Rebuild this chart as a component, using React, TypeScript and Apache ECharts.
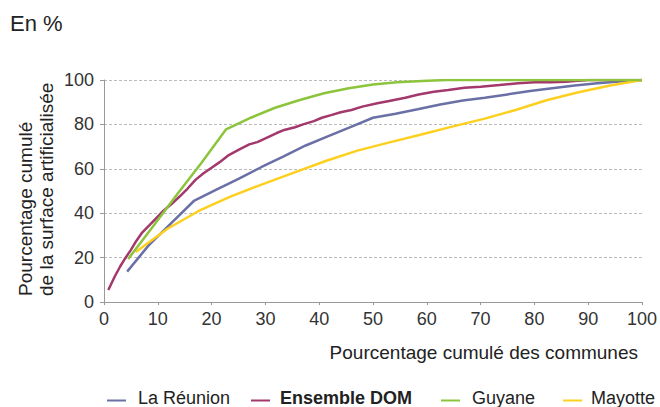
import React, { useEffect, useRef } from "react";
import * as echarts from "echarts";

const FONT = '"Liberation Sans", Arial, Helvetica, sans-serif';

const xTicks = [0, 10, 20, 30, 40, 50, 60, 70, 80, 90, 100];
const yTicks = [0, 20, 40, 60, 80, 100];

const reunionX = [4.3, 8.3, 12.5, 16.7, 20.8, 25, 29.2, 33.3, 37.5, 41.7, 45.8, 50, 54.2, 58.3, 62.5, 66.7, 70.8, 75, 79.2, 83.3, 87.5, 91.7, 95.8, 100];
const reunionY = [13.7, 25.5, 35.5, 45.5, 50.5, 55.5, 60.7, 65.5, 70.5, 74.7, 78.8, 83, 84.8, 86.8, 89, 90.8, 92, 93.5, 95, 96.3, 97.5, 98.5, 99.3, 100];

const domX = [0.8, 2, 3, 3.9, 5, 6, 7, 8.5, 10, 11, 12.5, 14, 15.5, 17, 18.5, 20, 21.5, 23.2, 25, 27, 28.5, 30, 32, 33.5, 35.5, 37, 39, 40.5, 42.2, 44, 46, 48, 50.8, 53, 56, 58.5, 61.3, 64, 67, 70, 73.5, 77, 80, 83, 85.8, 87.5, 90, 100];
const domY = [5.4, 11.5, 16, 19.5, 23.5, 27.5, 31, 34.7, 38.5, 41, 44, 47.4, 51, 55, 58, 60.5, 63, 66.2, 68.5, 71, 72, 73.7, 76, 77.5, 78.7, 80, 81.5, 83, 84.2, 85.5, 86.5, 88, 89.5, 90.5, 92, 93.5, 94.7, 95.5, 96.5, 97, 97.7, 98.5, 99, 99, 99.2, 99.6, 100, 100];

const guyaneX = [4.5, 9.1, 13.6, 18.2, 22.7, 27.3, 31.8, 36.4, 40.9, 45.5, 50, 54.5, 59.1, 63.6, 100];
const guyaneY = [19.4, 34, 48.5, 63, 77.8, 83, 87.5, 91, 94, 96.3, 98, 99, 99.6, 100, 100];

const mayotteX = [5.9, 11.8, 17.6, 23.5, 29.4, 35.3, 41.2, 47.1, 52.9, 58.8, 64.7, 70.6, 76.5, 82.4, 88.2, 94.1, 100];
const mayotteY = [22.5, 33, 41, 47.5, 53, 58.3, 63.5, 68.2, 71.8, 75.3, 79, 82.5, 86.5, 91, 94.5, 97.5, 100];

const seriesNames = ["La Réunion", "Ensemble DOM", "Guyane", "Mayotte"];
const seriesColors = ["#6a70a6", "#a3386c", "#8cc43c", "#fdd01f"];

const zip = (xs: number[], ys: number[]) => xs.map((x, i) => [x, ys[i]]);

export default function App() {
  const ref = useRef<HTMLDivElement>(null);
  useEffect(() => {
    document.body.style.margin = "0";
    if (!ref.current) return;
    const chart = echarts.init(ref.current, null, { renderer: "svg" });
    const data = [zip(reunionX, reunionY), zip(domX, domY), zip(guyaneX, guyaneY), zip(mayotteX, mayotteY)];
    const drawOrder = [0, 1, 3, 2];

    const legendPos = [
      { lx: 107, tx: 138, bold: false },
      { lx: 251, tx: 280, bold: true },
      { lx: 441, tx: 472, bold: false },
      { lx: 563, tx: 591, bold: false },
    ];
    const legendTextY = 398;
    const legendLineY = 400.5;

    const graphics: any[] = [
      {
        type: "text", x: 10, y: 23,
        style: { text: "En %", font: `22px ${FONT}`, fill: "#222", textAlign: "left", textVerticalAlign: "middle" },
      },
      {
        type: "text", x: 25, y: 296, rotation: Math.PI / 2,
        style: { text: "Pourcentage cumulé", font: `19px ${FONT}`, fill: "#222", textAlign: "left", textVerticalAlign: "middle" },
      },
      {
        type: "text", x: 46, y: 296, rotation: Math.PI / 2,
        style: { text: "de la surface artificialisée", font: `19px ${FONT}`, fill: "#222", textAlign: "left", textVerticalAlign: "middle" },
      },
      {
        type: "text", x: 638, y: 352,
        style: { text: "Pourcentage cumulé des communes", font: `19px ${FONT}`, fill: "#222", textAlign: "right", textVerticalAlign: "middle" },
      },
    ];
    seriesNames.forEach((name, i) => {
      const p = legendPos[i];
      graphics.push({
        type: "line",
        shape: { x1: p.lx, y1: legendLineY, x2: p.lx + 19, y2: legendLineY },
        style: { stroke: seriesColors[i], lineWidth: 2 },
      });
      graphics.push({
        type: "text", x: p.tx, y: legendTextY,
        style: {
          text: name,
          font: `${p.bold ? "bold " : ""}18px ${FONT}`,
          fill: "#222", textAlign: "left", textVerticalAlign: "middle",
        },
      });
    });

    chart.setOption({
      animation: false,
      backgroundColor: "#fff",
      grid: { left: 104, right: 13, top: 80, bottom: 105, containLabel: false },
      xAxis: {
        type: "value", min: xTicks[0], max: xTicks[xTicks.length - 1], interval: 10,
        axisLine: { lineStyle: { color: "#999", width: 1 } },
        axisTick: { show: true, length: 3, lineStyle: { color: "#999" } },
        splitLine: { show: false },
        axisLabel: { fontFamily: FONT, fontSize: 18, color: "#333", margin: 8 },
      },
      yAxis: {
        type: "value", min: yTicks[0], max: yTicks[yTicks.length - 1], interval: 20,
        axisLine: { show: true, lineStyle: { color: "#999", width: 1 } },
        axisTick: { show: true, length: 4, lineStyle: { color: "#999" } },
        splitLine: { show: true, lineStyle: { color: "#bbb", type: [3, 2], width: 1 } },
        axisLabel: { fontFamily: FONT, fontSize: 18, color: "#333", margin: 10 },
      },
      graphic: graphics,
      series: drawOrder.map((i) => ({
        name: seriesNames[i],
        type: "line",
        data: data[i],
        showSymbol: false,
        symbol: "none",
        lineStyle: { color: seriesColors[i], width: 2.5 },
        itemStyle: { color: seriesColors[i] },
        z: 2 + drawOrder.indexOf(i),
      })),
    });
    return () => chart.dispose();
  }, []);
  return <div ref={ref} style={{ width: 660, height: 407 }} />;
}
